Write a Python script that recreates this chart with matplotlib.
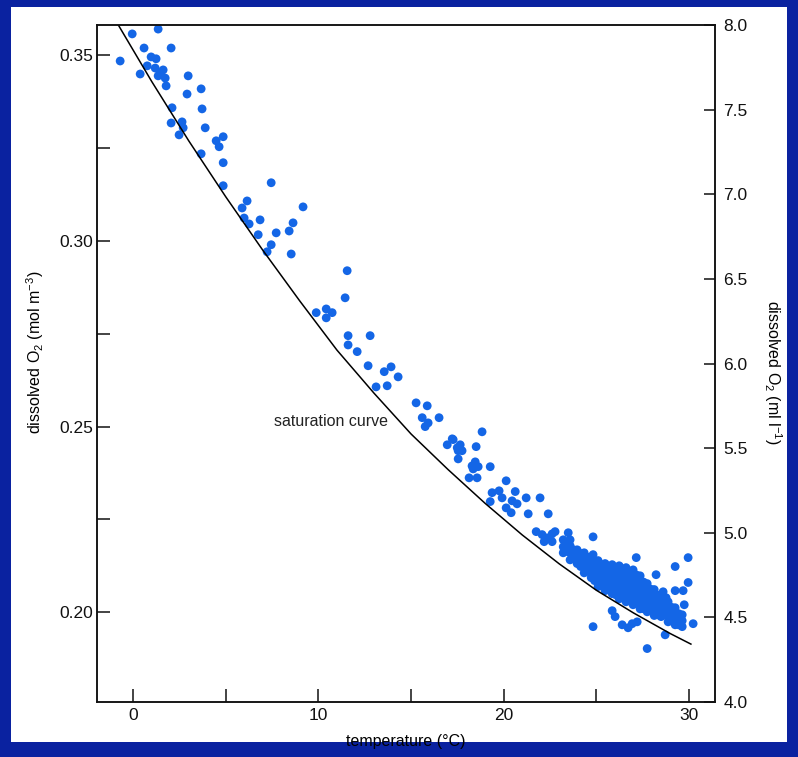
import matplotlib
matplotlib.use("Agg")
import matplotlib.pyplot as plt
from matplotlib import font_manager
from matplotlib.patches import Rectangle

# ---------------- data ----------------
# saturation curve: temperature (degC) vs dissolved O2 (mol m-3)
curve_T = [-0.8, 1, 3, 5, 7, 9, 11, 13, 15, 17, 19, 21, 23, 25, 27, 29, 30.1]
curve_O = [0.3582, 0.3430, 0.3270, 0.3119, 0.2975, 0.2838, 0.2706, 0.2590, 0.2480,
           0.2384, 0.2293, 0.2208, 0.2130, 0.2059, 0.1998, 0.1942, 0.1914]

# observations: temperature (degC)
obs_T = [
    -0.70, -0.05, 1.35, 0.59, 2.05, 0.97, 1.24, 0.76, 0.38,
    1.19, 1.62, 1.35, 1.73, 1.46, 1.78, 2.97, 3.67, 2.91, 2.10, 3.72,
    2.05, 2.64, 2.70, 2.48, 3.89, 4.86, 4.48, 4.64, 3.67, 4.86, 4.86,
    7.45, 6.15, 5.88, 5.99, 6.26, 6.85, 6.75, 7.72, 8.42, 8.63, 9.17,
    7.45, 7.23, 8.53, 11.55, 11.44, 9.88, 10.42, 10.74, 10.42,
    11.60, 12.79, 11.60, 12.09, 12.68, 13.55, 13.92, 14.30, 13.11, 13.71,
    15.27, 15.87, 15.60, 15.92, 15.76, 16.51, 18.83,
    16.95, 17.27, 17.65, 17.49, 17.22, 17.54, 17.75, 17.54, 18.51,
    18.46, 18.29, 18.62, 18.35, 19.27, 18.13, 18.56, 20.13,
    19.37, 19.75, 19.27, 19.91, 20.62, 20.45, 20.72, 20.13, 20.40,
    21.21, 21.96, 21.32, 22.40, 21.75, 22.07, 22.34, 22.61, 22.77, 22.18, 22.61,
    23.48, 23.58, 24.82, 24.82, 27.15, 29.95, 29.25, 28.22, 29.95,
    28.60, 28.76, 29.25, 29.68, 29.74, 30.22, 24.82,
    25.85, 26.01, 26.39, 26.71, 26.93, 27.20, 28.71, 27.74,
    # dense band 23-30 degC
    23.21, 23.21, 23.21,
    23.58, 23.58, 23.58,
    23.96, 23.96, 23.96,
    24.34, 24.34, 24.34, 24.34,
    24.72, 24.72, 24.72, 24.72,
    25.09, 25.09, 25.09, 25.09, 25.09,
    25.47, 25.47, 25.47, 25.47, 25.47,
    25.85, 25.85, 25.85, 25.85, 25.85,
    26.23, 26.23, 26.23, 26.23, 26.23, 26.23,
    26.60, 26.60, 26.60, 26.60, 26.60, 26.60,
    26.98, 26.98, 26.98, 26.98, 26.98, 26.98,
    27.36, 27.36, 27.36, 27.36, 27.36, 27.36,
    27.74, 27.74, 27.74, 27.74, 27.74,
    28.12, 28.12, 28.12, 28.12, 28.12,
    28.49, 28.49, 28.49, 28.49,
    28.87, 28.87, 28.87, 28.87,
    29.25, 29.25, 29.25, 29.25,
    29.63, 29.63, 29.63,
    23.40, 23.40,
    23.77, 23.77,
    24.15, 24.15, 24.15,
    24.53, 24.53, 24.53,
    24.90, 24.90, 24.90, 24.90,
    25.28, 25.28, 25.28, 25.28,
    25.66, 25.66, 25.66, 25.66,
    26.04, 26.04, 26.04, 26.04, 26.04,
    26.41, 26.41, 26.41, 26.41, 26.41,
    26.79, 26.79, 26.79, 26.79, 26.79,
    27.17, 27.17, 27.17, 27.17, 27.17,
    27.55, 27.55, 27.55, 27.55, 27.55,
    27.93, 27.93, 27.93, 27.93,
    28.30, 28.30, 28.30, 28.30,
    28.68, 28.68, 28.68,
    29.06, 29.06, 29.06,
    29.44, 29.44, 29.44,
]
# observations: dissolved O2 (mol m-3)
obs_O = [
    0.3485, 0.3558, 0.3571, 0.3520, 0.3520, 0.3496, 0.3491, 0.3472, 0.3450,
    0.3466, 0.3461, 0.3445, 0.3439, 0.3453, 0.3418, 0.3445, 0.3410, 0.3396, 0.3359, 0.3356,
    0.3318, 0.3321, 0.3305, 0.3286, 0.3305, 0.3281, 0.3270, 0.3254, 0.3235, 0.3211, 0.3149,
    0.3157, 0.3108, 0.3089, 0.3062, 0.3046, 0.3057, 0.3017, 0.3022, 0.3027, 0.3049, 0.3092,
    0.2990, 0.2971, 0.2965, 0.2920, 0.2847, 0.2807, 0.2817, 0.2807, 0.2793,
    0.2745, 0.2745, 0.2720, 0.2702, 0.2664, 0.2648, 0.2661, 0.2634, 0.2607, 0.2610,
    0.2564, 0.2556, 0.2524, 0.2510, 0.2500, 0.2524, 0.2486,
    0.2451, 0.2465, 0.2451, 0.2443, 0.2467, 0.2435, 0.2435, 0.2413, 0.2446,
    0.2405, 0.2394, 0.2392, 0.2386, 0.2392, 0.2362, 0.2362, 0.2354,
    0.2322, 0.2327, 0.2298, 0.2308, 0.2325, 0.2300, 0.2292, 0.2281, 0.2268,
    0.2308, 0.2308, 0.2265, 0.2265, 0.2217, 0.2209, 0.2200, 0.2211, 0.2217, 0.2190, 0.2190,
    0.2214, 0.2195, 0.2203, 0.2155, 0.2147, 0.2147, 0.2123, 0.2101, 0.2080,
    0.2055, 0.2039, 0.2058, 0.2058, 0.2020, 0.1969, 0.1961,
    0.2004, 0.1988, 0.1966, 0.1958, 0.1969, 0.1974, 0.1939, 0.1902,
    # dense band
    0.2195, 0.2176, 0.2160,
    0.2179, 0.2160, 0.2141,
    0.2168, 0.2149, 0.2131,
    0.2160, 0.2141, 0.2123, 0.2106,
    0.2149, 0.2131, 0.2112, 0.2093,
    0.2139, 0.2120, 0.2101, 0.2082, 0.2069,
    0.2131, 0.2112, 0.2093, 0.2074, 0.2058,
    0.2128, 0.2109, 0.2090, 0.2071, 0.2050,
    0.2125, 0.2106, 0.2088, 0.2069, 0.2050, 0.2036,
    0.2120, 0.2101, 0.2082, 0.2063, 0.2044, 0.2028,
    0.2114, 0.2096, 0.2077, 0.2058, 0.2039, 0.2020,
    0.2098, 0.2079, 0.2061, 0.2042, 0.2023, 0.2009,
    0.2077, 0.2058, 0.2039, 0.2020, 0.2001,
    0.2061, 0.2042, 0.2023, 0.2004, 0.1991,
    0.2044, 0.2026, 0.2007, 0.1988,
    0.2028, 0.2009, 0.1991, 0.1974,
    0.2012, 0.1996, 0.1980, 0.1966,
    0.1993, 0.1977, 0.1961,
    0.2183, 0.2164,
    0.2168, 0.2149,
    0.2158, 0.2139, 0.2123,
    0.2148, 0.2129, 0.2110,
    0.2137, 0.2118, 0.2100, 0.2085,
    0.2128, 0.2109, 0.2090, 0.2071,
    0.2123, 0.2104, 0.2085, 0.2066,
    0.2120, 0.2101, 0.2082, 0.2063, 0.2047,
    0.2116, 0.2097, 0.2078, 0.2059, 0.2040,
    0.2110, 0.2092, 0.2073, 0.2054, 0.2035,
    0.2100, 0.2081, 0.2062, 0.2043, 0.2024,
    0.2081, 0.2062, 0.2043, 0.2024, 0.2009,
    0.2062, 0.2043, 0.2024, 0.2005,
    0.2046, 0.2027, 0.2008, 0.1993,
    0.2030, 0.2011, 0.1992,
    0.2013, 0.1995, 0.1977,
    0.1996, 0.1978, 0.1966,
]

x_major = [0, 10, 20, 30]
x_minor = [5, 15, 25]
left_major = [0.20, 0.25, 0.30, 0.35]
left_minor = [0.225, 0.275, 0.325]
left_labels = ["0.20", "0.25", "0.30", "0.35"]
right_ticks = [4.0, 4.5, 5.0, 5.5, 6.0, 6.5, 7.0, 7.5, 8.0]
right_labels = ["4.0", "4.5", "5.0", "5.5", "6.0", "6.5", "7.0", "7.5", "8.0"]

# ---------------- style ----------------
names = {f.name for f in font_manager.fontManager.ttflist}
base = "Liberation Sans Narrow" if "Liberation Sans Narrow" in names else "Liberation Sans"
plt.rcParams["font.family"] = [base, "DejaVu Sans"]
plt.rcParams["mathtext.fontset"] = "custom"
plt.rcParams["mathtext.rm"] = base
plt.rcParams["mathtext.it"] = base
plt.rcParams["mathtext.default"] = "rm"

NAVY = "#0a22a0"
DOT = "#1466e6"
INK = "#111111"

fig = plt.figure(figsize=(7.98, 7.57), dpi=100, facecolor=NAVY)
panel = Rectangle((11 / 798, 1 - 742 / 757), 776 / 798, 735 / 757,
                  transform=fig.transFigure, facecolor="white",
                  edgecolor="none", zorder=-10)
fig.add_artist(panel)

ax = fig.add_axes([97 / 798, 1 - 702 / 757, 618 / 798, 677 / 757])
ax.set_facecolor("none")
ax.set_xlim(-1.95, 31.4)
ax.set_ylim(0.1758, 0.3582)

ax.plot(curve_T, curve_O, color="black", lw=1.1, zorder=3)
ax.scatter(obs_T, obs_O, s=40, color=DOT, edgecolors="none", zorder=2)

ax.text(13.76, 0.2513, "saturation curve", ha="right", va="center",
        fontsize=11.5, color="#222222")

for sp in ax.spines.values():
    sp.set_linewidth(1.1)
    sp.set_color(INK)

ax.set_xticks(x_major)
ax.set_xticks(x_minor, minor=True)
ax.set_yticks(left_major)
ax.set_yticklabels(left_labels)
ax.set_yticks(left_minor, minor=True)
ax.tick_params(axis="both", which="both", direction="in", length=9.5, width=1.1,
               colors=INK, labelsize=12.5, top=False, right=False)
ax.tick_params(axis="y", which="both", pad=3)
ax.tick_params(axis="x", which="both", pad=4)

ax.set_xlabel("temperature (°C)", fontsize=11.5)
ax.xaxis.set_label_coords((406 - 97) / 618, (702 - 734) / 677)
ax.set_ylabel("dissolved O$_2$ (mol m$^{-3}$)", fontsize=11.5)
ax.yaxis.set_label_coords((46 - 97) / 618, (702 - 352) / 677)

ax2 = ax.twinx()
ax2.set_ylim(4.0, 8.0)
ax2.set_yticks(right_ticks)
ax2.set_yticklabels(right_labels)
ax2.tick_params(axis="y", direction="in", length=8, width=1.1, colors=INK,
                labelsize=12.5, pad=6)
for sp in ax2.spines.values():
    sp.set_linewidth(1.1)
    sp.set_color(INK)
ax2.set_ylabel("dissolved O$_2$ (ml l$^{-1}$)", fontsize=11.5, rotation=270,
               va="center")
ax2.yaxis.set_label_coords((773 - 97) / 618, (702 - 372) / 677)

fig.savefig("out.png", dpi=100, facecolor=NAVY)
